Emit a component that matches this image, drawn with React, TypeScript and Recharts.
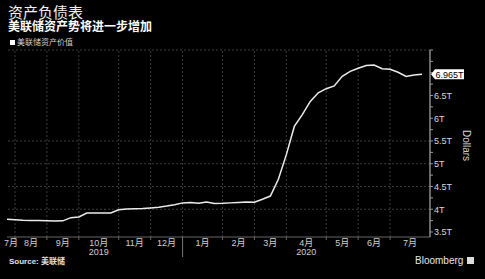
import React from 'react';
import { LineChart, Line, XAxis, YAxis, ReferenceLine } from 'recharts';

// weekly Fed balance sheet readings (Wednesdays), trillions of dollars
const weeks = [
  '2019-07-31', '2019-08-07', '2019-08-14', '2019-08-21', '2019-08-28', '2019-09-04', '2019-09-11',
  '2019-09-18', '2019-09-25', '2019-10-02', '2019-10-09', '2019-10-16', '2019-10-23', '2019-10-30',
  '2019-11-06', '2019-11-13', '2019-11-20', '2019-11-27', '2019-12-04', '2019-12-11', '2019-12-18',
  '2019-12-25', '2020-01-01', '2020-01-08', '2020-01-15', '2020-01-22', '2020-01-29', '2020-02-05',
  '2020-02-12', '2020-02-19', '2020-02-26', '2020-03-04', '2020-03-11', '2020-03-18', '2020-03-25',
  '2020-04-01', '2020-04-08', '2020-04-15', '2020-04-22', '2020-04-29', '2020-05-06', '2020-05-13',
  '2020-05-20', '2020-05-27', '2020-06-03', '2020-06-10', '2020-06-17', '2020-06-24', '2020-07-01',
  '2020-07-08', '2020-07-15', '2020-07-22', '2020-07-29',
];

const assets = [
  3.78, 3.77, 3.76, 3.755, 3.75, 3.745, 3.74,
  3.745, 3.815, 3.83, 3.915, 3.915, 3.915, 3.92,
  3.99, 4.005, 4.01, 4.015, 4.03, 4.045, 4.07,
  4.1, 4.14, 4.148, 4.13, 4.16, 4.127, 4.13,
  4.14, 4.15, 4.16, 4.155, 4.22, 4.29, 4.66,
  5.2, 5.82, 6.08, 6.37, 6.56, 6.65, 6.71,
  6.92, 7.03, 7.1, 7.16, 7.17, 7.09, 7.075,
  7.01, 6.92, 6.95, 6.965,
];

// index of first week of each month (Aug 2019 .. Jul 2020)
const monthStarts = [1, 5, 9, 14, 18, 22, 27, 31, 35, 40, 44, 48];
const monthNames = ['7月', '8月', '9月', '10月', '11月', '12月', '1月', '2月', '3月', '4月', '5月', '6月', '7月'];
const yearLabels: Record<number, string> = { 3: '2019', 9: '2020' };
const yearBreak = 22;

const yMajor = [3.5, 4, 4.5, 5, 5.5, 6, 6.5, 7, 7.5];
const gridValues = [4, 4.5, 5, 5.5, 7.5];

const X_MAX = 53;
const data = assets.map((v, i) => ({ i, date: weeks[i], value: v }));
const last = assets[assets.length - 1];

const bounds = [0, ...monthStarts, X_MAX];
const monthCenters = monthNames.map((_, k) => (bounds[k] + bounds[k + 1]) / 2);

const yMinor = yMajor.slice(0, -1).map((v) => v + 0.25);
const yTicks = [...yMajor, ...yMinor, last];

const FONT = "'Liberation Sans', 'Noto Sans CJK SC', sans-serif";
const GRID = '#3c3c3c';

const XTick = (props: any) => {
  const { x, y, payload } = props;
  const v = payload.value;
  const gi = monthStarts.indexOf(v);
  if (gi >= 0) {
    const long = v === yearBreak;
    return <line x1={x} x2={x} y1={y} y2={y + (long ? 20 : 3)} stroke={long ? '#777' : '#666'} />;
  }
  const k = monthCenters.indexOf(v);
  if (k < 0) return null;
  return (
    <g fontFamily={FONT} fill="#cfcfcf">
      <text x={x} y={y + 9} fontSize={9} textAnchor="middle">{monthNames[k]}</text>
      {yearLabels[k] && (
        <text x={x} y={y + 18} fontSize={9} textAnchor="middle">{yearLabels[k]}</text>
      )}
    </g>
  );
};

const YTick = (props: any) => {
  const { x, y, payload } = props;
  const v = payload.value;
  if (v === last) {
    return (
      <g fontFamily={FONT}>
        <path d={`M${x + 1},${y} L${x + 5},${y - 5} L${x + 34},${y - 5} L${x + 34},${y + 5} L${x + 5},${y + 5} Z`} fill="#fff" />
        <text x={x + 19.5} y={y + 3.3} fontSize={9} textAnchor="middle" fill="#000">{`${last}T`}</text>
      </g>
    );
  }
  const major = yMajor.includes(v);
  return (
    <g fontFamily={FONT}>
      <line x1={x} x2={x + 3} y1={y} y2={y} stroke="#999" />
      {major && v < 7 && (
        <text x={x + 4} y={y + 3.3} fontSize={9} fill="#d8d8d8">{`${v}T`}</text>
      )}
    </g>
  );
};

const DollarsLabel = (props: any) => {
  const vb = props.viewBox;
  const cx = vb.x + 36;
  const cy = vb.y + vb.height / 2 + 2;
  return (
    <text x={cx} y={cy} transform={`rotate(90, ${cx}, ${cy})`} textAnchor="middle" dominantBaseline="middle"
      fontSize={10} fill="#d8d8d8" fontFamily={FONT}>Dollars</text>
  );
};

export default function App() {
  return (
    <div style={{ position: 'absolute', left: 0, top: 0, width: 485, height: 279, background: '#000', fontFamily: FONT, overflow: 'hidden' }}>
      <div style={{ position: 'absolute', left: 8, top: 5, fontSize: 15, lineHeight: '16px', color: '#f2f2f2' }}>资产负债表</div>
      <div style={{ position: 'absolute', left: 8, top: 21, fontSize: 12, lineHeight: '13px', color: '#fff', fontWeight: 'bold' }}>美联储资产势将进一步增加</div>
      <div style={{ position: 'absolute', left: 10, top: 38, fontSize: 8, lineHeight: '9px', color: '#cfcfcf', display: 'flex', alignItems: 'center' }}>
        <span style={{ display: 'inline-block', width: 5, height: 5, background: '#fff', marginRight: 2 }} />
        美联储资产价值
      </div>

      <div style={{ position: 'absolute', left: 0, top: 0 }}>
        <LineChart width={485} height={279} data={data} margin={{ top: 50, right: 0, bottom: 0, left: 7 }}>
          <XAxis dataKey="i" type="number" domain={[0, X_MAX]} ticks={[...monthStarts, ...monthCenters]} interval={0}
            tick={<XTick />} tickLine={false} tickSize={0} tickMargin={0} height={42} stroke="#666" allowDataOverflow />
          <YAxis orientation="right" type="number" domain={[3.39, 7.5]} ticks={yTicks} interval={0}
            tick={<YTick />} tickLine={false} tickSize={0} tickMargin={0} width={55} stroke="#8a8a8a" strokeWidth={1.5}
            allowDataOverflow label={<DollarsLabel />} />
          {monthStarts.map((m) => (
            <ReferenceLine key={`vx-${m}`} x={m} stroke={GRID} strokeDasharray="2 2" />
          ))}
          {gridValues.map((g) => (
            <ReferenceLine key={`hy-${g}`} y={g} stroke={GRID} strokeDasharray="2 2" />
          ))}
          <Line type="linear" dataKey="value" stroke="#ececec" strokeWidth={1.5} dot={false} isAnimationActive={false} />
        </LineChart>
      </div>

      <div style={{ position: 'absolute', left: 9, top: 257, fontSize: 8, lineHeight: '9px', color: '#e0e0e0', fontWeight: 'bold' }}>Source: 美联储</div>
      <div style={{ position: 'absolute', left: 415, top: 255, fontSize: 10, lineHeight: '11px', color: '#e6e6e6', display: 'flex', alignItems: 'center' }}>
        Bloomberg
        <span style={{ display: 'inline-block', width: 7, height: 7, background: '#ddd', marginLeft: 4 }} />
      </div>
    </div>
  );
}
